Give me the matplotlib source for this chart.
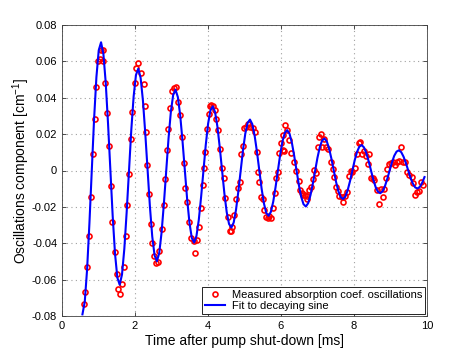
import matplotlib
matplotlib.use('Agg')
import matplotlib.pyplot as plt

# measured oscillation component
meas_t = [0.594, 0.621, 0.693, 0.749, 0.785, 0.840, 0.895, 0.940, 0.986, 1.041,
          1.078, 1.114, 1.123, 1.187, 1.242, 1.297, 1.333, 1.379, 1.443, 1.498,
          1.543, 1.598, 1.635, 1.690, 1.745, 1.790, 1.836, 1.881, 1.918, 1.991,
          2.037, 2.082, 2.174, 2.238, 2.265, 2.301, 2.338, 2.374, 2.430, 2.470,
          2.520, 2.580, 2.630, 2.667, 2.740, 2.785, 2.831, 2.877, 2.904, 2.968,
          3.014, 3.078, 3.123, 3.178, 3.242, 3.288, 3.333, 3.379, 3.415, 3.470,
          3.543, 3.607, 3.635, 3.690, 3.753, 3.808, 3.854, 3.899, 3.927, 3.973,
          4.018, 4.055, 4.091, 4.137, 4.190, 4.228, 4.283, 4.338, 4.384, 4.430,
          4.475, 4.540, 4.590, 4.625, 4.660, 4.721, 4.767, 4.822, 4.877, 4.904,
          4.950, 4.995, 5.041, 5.087, 5.151, 5.224, 5.297, 5.333, 5.379, 5.406,
          5.443, 5.498, 5.543, 5.589, 5.635, 5.680, 5.735, 5.772, 5.836, 5.872,
          5.909, 5.954, 6.009, 6.046, 6.064, 6.091, 6.119, 6.174, 6.228, 6.283,
          6.365, 6.411, 6.480, 6.530, 6.570, 6.610, 6.670, 6.703, 6.721, 6.776,
          6.813, 6.868, 6.913, 6.959, 7.005, 7.050, 7.087, 7.123, 7.178, 7.233,
          7.288, 7.370, 7.416, 7.461, 7.507, 7.553, 7.598, 7.662, 7.708, 7.753,
          7.800, 7.872, 7.918, 7.955, 8.027, 8.073, 8.128, 8.174, 8.219, 8.274,
          8.329, 8.393, 8.420, 8.460, 8.510, 8.560, 8.630, 8.690, 8.731, 8.786,
          8.831, 8.877, 8.913, 8.968, 9.014, 9.059, 9.123, 9.168, 9.241, 9.278,
          9.333, 9.397, 9.461, 9.516, 9.580, 9.625, 9.671, 9.726, 9.790, 9.826,
          9.881]
meas_v = [-0.0736, -0.0666, -0.0529, -0.0360, -0.0148, 0.0089, 0.0283, 0.0457, 0.0602, 0.0611,
          0.0663, 0.0663, 0.0602, 0.0479, 0.0318, 0.0136, -0.0084, -0.0282, -0.0450, -0.0569,
          -0.0654, -0.0681, -0.0626, -0.0533, -0.0359, -0.0190, -0.0021, 0.0173, 0.0323, 0.0479,
          0.0562, 0.0589, 0.0538, 0.0474, 0.0356, 0.0210, 0.0030, -0.0131, -0.0296, -0.0400,
          -0.0469, -0.0506, -0.0505, -0.0443, -0.0324, -0.0190, -0.0049, 0.0113, 0.0228, 0.0345,
          0.0437, 0.0455, 0.0461, 0.0375, 0.0305, 0.0186, 0.0039, -0.0095, -0.0175, -0.0282,
          -0.0370, -0.0388, -0.0452, -0.0382, -0.0309, -0.0208, -0.0080, 0.0015, 0.0103, 0.0226,
          0.0309, 0.0356, 0.0360, 0.0356, 0.0333, 0.0283, 0.0223, 0.0118, 0.0015, -0.0043,
          -0.0150, -0.0255, -0.0330, -0.0333, -0.0309, -0.0245, -0.0159, -0.0095, -0.0065, 0.0089,
          0.0136, 0.0235, 0.0241, 0.0254, 0.0241, 0.0232, 0.0213, 0.0100, -0.0007, -0.0062,
          -0.0148, -0.0159, -0.0217, -0.0254, -0.0260, -0.0249, -0.0260, -0.0205, -0.0122, -0.0040,
          -0.0007, 0.0094, 0.0149, 0.0113, 0.0195, 0.0107, 0.0250, 0.0223, 0.0168, 0.0094,
          0.0048, -0.0003, -0.0055, -0.0107, -0.0126, -0.0135, -0.0135, -0.0140, -0.0159, -0.0107,
          -0.0093, -0.0049, 0.0003, -0.0012, 0.0131, 0.0186, 0.0199, 0.0131, 0.0171, 0.0127,
          0.0116, 0.0048, 0.0006, -0.0038, -0.0093, -0.0111, -0.0140, -0.0144, -0.0171, -0.0140,
          -0.0116, -0.0030, -0.0001, -0.0007, 0.0012, 0.0090, 0.0149, 0.0155, 0.0090, 0.0107,
          0.0081, 0.0036, 0.0090, -0.0040, -0.0043, -0.0050, -0.0107, -0.0186, -0.0104, -0.0144,
          -0.0104, -0.0043, 0.0006, 0.0036, 0.0043, 0.0048, 0.0030, 0.0048, 0.0054, 0.0127,
          0.0048, 0.0048, -0.0007, -0.0025, -0.0034, -0.0071, -0.0135, -0.0116, -0.0110, -0.0062,
          -0.0080]

# fitted decaying sine
fit_t = [0.56, 0.6238, 0.6875, 0.7513, 0.815, 0.8788, 0.9425, 1.0063,
         1.07, 1.1338, 1.1975, 1.2613, 1.325, 1.3888, 1.4525, 1.5163, 1.58, 1.6438, 1.7075, 1.7713, 1.835, 1.8988, 1.9625, 2.0263,
         2.09, 2.1538, 2.2175, 2.2813, 2.345, 2.4088, 2.4725, 2.5363, 2.6, 2.6638, 2.7275, 2.7913, 2.855, 2.9188, 2.9825, 3.0463,
         3.11, 3.1738, 3.2375, 3.3013, 3.365, 3.4288, 3.4925, 3.5563, 3.62, 3.6838, 3.7475, 3.8113, 3.875, 3.9388, 4.0025, 4.0663,
         4.13, 4.1938, 4.2575, 4.3213, 4.385, 4.4488, 4.5125, 4.5763, 4.64, 4.7038, 4.7675, 4.8313, 4.895, 4.9588, 5.0225, 5.0863,
         5.15, 5.2138, 5.2775, 5.3413, 5.405, 5.4688, 5.5325, 5.5963, 5.66, 5.7238, 5.7875, 5.8513, 5.915, 5.9788, 6.0425, 6.1063,
         6.17, 6.2338, 6.2975, 6.3613, 6.425, 6.4888, 6.5525, 6.6163, 6.68, 6.7438, 6.8075, 6.8713, 6.935, 6.9988, 7.0625, 7.1263,
         7.19, 7.2538, 7.3175, 7.3813, 7.445, 7.5088, 7.5725, 7.6363, 7.70, 7.7638, 7.8275, 7.8913, 7.955, 8.0188, 8.0825, 8.1463,
         8.21, 8.2738, 8.3375, 8.4013, 8.465, 8.5288, 8.5925, 8.6563, 8.72, 8.7838, 8.8475, 8.9113, 8.975, 9.0388, 9.1025, 9.1663,
         9.23, 9.2938, 9.3575, 9.4213, 9.485, 9.5488, 9.6125, 9.6763, 9.74, 9.8038, 9.8675, 9.9313]
fit_v = [-0.0791, -0.0721, -0.0544, -0.0290, 0.0, 0.0282, 0.0513, 0.0661,
         0.0705, 0.0642, 0.0484, 0.0258, 0.0, -0.0251, -0.0457, -0.0589, -0.0628, -0.0572, -0.0431, -0.0230, 0.0, 0.0224, 0.0407, 0.0525,
         0.0560, 0.0510, 0.0384, 0.0205, 0.0, -0.0199, -0.0363, -0.0467, -0.0499, -0.0454, -0.0342, -0.0183, 0.0, 0.0177, 0.0323, 0.0416,
         0.0444, 0.0404, 0.0305, 0.0163, 0.0, -0.0158, -0.0288, -0.0371, -0.0396, -0.0360, -0.0272, -0.0145, 0.0, 0.0141, 0.0257, 0.0330,
         0.0353, 0.0321, 0.0242, 0.0129, 0.0, -0.0126, -0.0229, -0.0294, -0.0314, -0.0286, -0.0216, -0.0115, 0.0, 0.0112, 0.0204, 0.0262,
         0.0280, 0.0255, 0.0192, 0.0103, 0.0, -0.0100, -0.0181, -0.0234, -0.0249, -0.0227, -0.0171, -0.0091, 0.0, 0.0089, 0.0162, 0.0208,
         0.0222, 0.0202, 0.0153, 0.0081, 0.0, -0.0079, -0.0144, -0.0185, -0.0198, -0.0180, -0.0136, -0.0073, 0.0, 0.0070, 0.0128, 0.0165,
         0.0176, 0.0161, 0.0121, 0.0065, 0.0, -0.0063, -0.0114, -0.0147, -0.0157, -0.0143, -0.0108, -0.0058, 0.0, 0.0056, 0.0102, 0.0131,
         0.0140, 0.0127, 0.0096, 0.0051, 0.0, -0.0050, -0.0091, -0.0117, -0.0125, -0.0114, -0.0086, -0.0046, 0.0, 0.0044, 0.0081, 0.0104,
         0.0111, 0.0101, 0.0076, 0.0041, 0.0, -0.0040, -0.0072, -0.0093, -0.0099, -0.0090, -0.0068, -0.0036]

x_ticks = [0, 2, 4, 6, 8, 10]
y_ticks = [-0.08, -0.06, -0.04, -0.02, 0, 0.02, 0.04, 0.06, 0.08]
y_tick_labels = ['-0.08', '-0.06', '-0.04', '-0.02', '0', '0.02', '0.04', '0.06', '0.08']

plt.rcParams['font.family'] = ['Liberation Sans', 'DejaVu Sans']
plt.rcParams['mathtext.fontset'] = 'custom'
plt.rcParams['mathtext.rm'] = 'Liberation Sans'
plt.rcParams['mathtext.it'] = 'Liberation Sans:italic'

fig = plt.figure(figsize=(4.7, 3.53), dpi=100)
ax = fig.add_axes([62 / 470, 1 - 316 / 353, 365 / 470, 291 / 353])

ax.plot(meas_t, meas_v, 'o', mfc='none', mec='#ff0000', ms=3.6, mew=1.2,
        label='Measured absorption coef. oscillations')
ax.plot(fit_t, fit_v, '-', color='#0000ff', lw=1.5, label='Fit to decaying sine')

ax.set_xlim(0, 10)
ax.set_ylim(-0.08, 0.08)
ax.set_xticks(x_ticks)
ax.set_yticks(y_ticks)
ax.set_yticklabels(y_tick_labels)
ax.tick_params(direction='in', top=True, right=True, length=3, width=0.6,
               labelsize=8, colors='#303030', labelcolor='black')
ax.grid(True, linestyle=(0, (1, 3)), color='#a0a0a0', linewidth=0.8)
for s in ax.spines.values():
    s.set_color('#404040')
    s.set_linewidth(0.6)

ax.set_xlabel('Time after pump shut-down [ms]', fontsize=10, labelpad=2)
ax.set_ylabel('Oscillations component [cm$^{-1}$]', fontsize=10, labelpad=0)

leg = ax.legend(loc='lower right', fontsize=8, fancybox=False, framealpha=1,
                edgecolor='black', borderaxespad=0.15, handlelength=1.8,
                handletextpad=0.6, borderpad=0.3, labelspacing=0.1)
leg.get_frame().set_linewidth(0.6)

fig.savefig('out.png', dpi=100)
